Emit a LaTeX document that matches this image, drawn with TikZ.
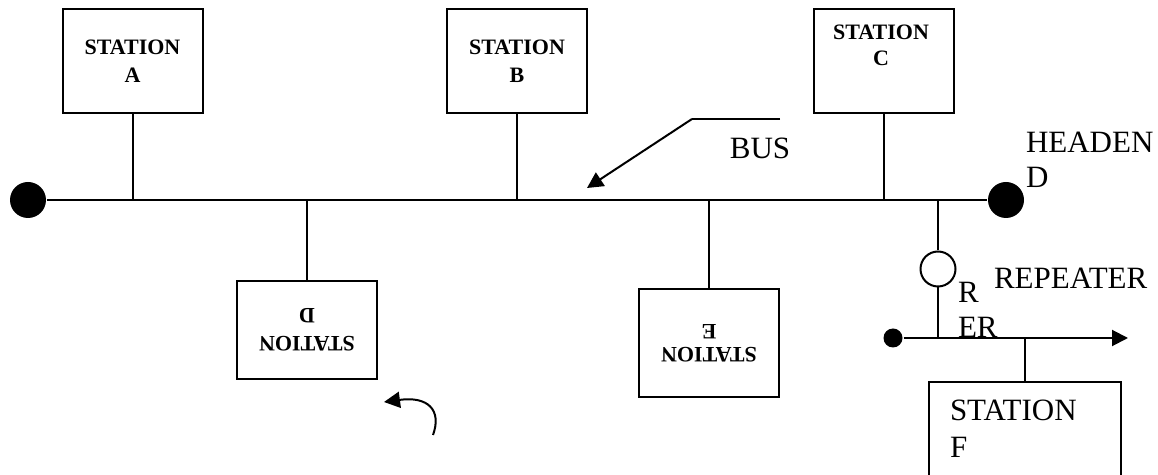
\documentclass[tikz,border=0pt]{standalone}
\usepackage{fontspec}
\setmainfont{Liberation Serif}
\usetikzlibrary{arrows.meta}

\tikzset{
  station/.style={draw, line width=1pt, minimum width=70pt, minimum height=52pt,
    inner sep=0pt, align=center, font=\bfseries\fontsize{11}{14}\selectfont},
  dot/.style={circle, fill=black, inner sep=0pt, minimum size=#1},
  lbl/.style={inner sep=0pt, align=left, font=\fontsize{15.5}{17.5}\selectfont},
  tip/.style={-{Triangle[length=8pt,width=8pt]}},
}

\begin{document}
\begin{tikzpicture}[x=0.5pt, y=-0.5pt, line width=1pt]
\clip (0,0) rectangle (1158,475);

% bus with its two ends
\node[dot=18pt] (ldot) at (28,200) {};
\node[dot=18pt] (rdot) at (1006,200) {};
\draw (ldot) -- (rdot);

% stations above the bus
\node[station] (stA) at (132.5,61) {STATION\\A};
\node[station] (stB) at (517,61) {STATION\\B};
\node[station] (stC) at (884,61) {};
\node[inner sep=0pt, align=center, font=\bfseries\fontsize{11}{13}\selectfont] (stCtxt) at (881,45) {STATION\\C};
\draw (stA.south) -- (stA.south |- ldot);
\draw (stB.south) -- (stB.south |- ldot);
\draw (stC.south) -- (stC.south |- ldot);

% stations below the bus (upside down)
\node[station, rotate=180, minimum height=49pt] (stD) at (307,330) {STATION\\D};
\node[station, rotate=180, minimum height=54pt, font=\bfseries\fontsize{11}{11.5}\selectfont] (stE) at (709,343) {STATION\\E};
\draw (stD.south) -- (stD.south |- ldot);
\draw (stE.south) -- (stE.south |- ldot);

% bus label
\coordinate (busA) at (780,119);
\coordinate (busB) at (692,119);
\coordinate (busC) at (587,188);
\draw[line width=0.6pt] (busA) -- (busB);
\draw[tip] (busB) -- (busC);
\node[lbl] (bus) at (760,148) {BUS};

\node[lbl, anchor=west] (head) at (1025,160) {HEADEN\\D};

% repeater and second segment
\node[circle, draw, minimum size=17.5pt, inner sep=0pt] (rep) at (938,269) {};
\node[dot=9.5pt] (sdot) at (893,338) {};
\coordinate (lend) at (1128,338);
\draw (rep.north) -- (rep.north |- ldot);
\draw[tip] (sdot) -- (lend);
\draw (rep.south) -- (rep.south |- sdot);
\node[lbl, anchor=west] (reptxt) at (993,278) {REPEATER};
\node[lbl, anchor=west] (rer) at (957,310) {R\\ER};

\node[draw, minimum width=96pt, minimum height=100pt, inner sep=0pt] (stF) at (1025,482) {};
\draw (stF.north) -- (stF.north |- sdot);
\node[lbl, anchor=west, font=\fontsize{15.5}{18.5}\selectfont] (stFtxt) at (949,429) {STATION\\F};

% curved arrow
\coordinate (ctail) at (433,435);
\coordinate (chead) at (384,402);
\draw[tip] (ctail) .. controls (442,410) and (428,396) .. (chead);
\end{tikzpicture}
\end{document}
